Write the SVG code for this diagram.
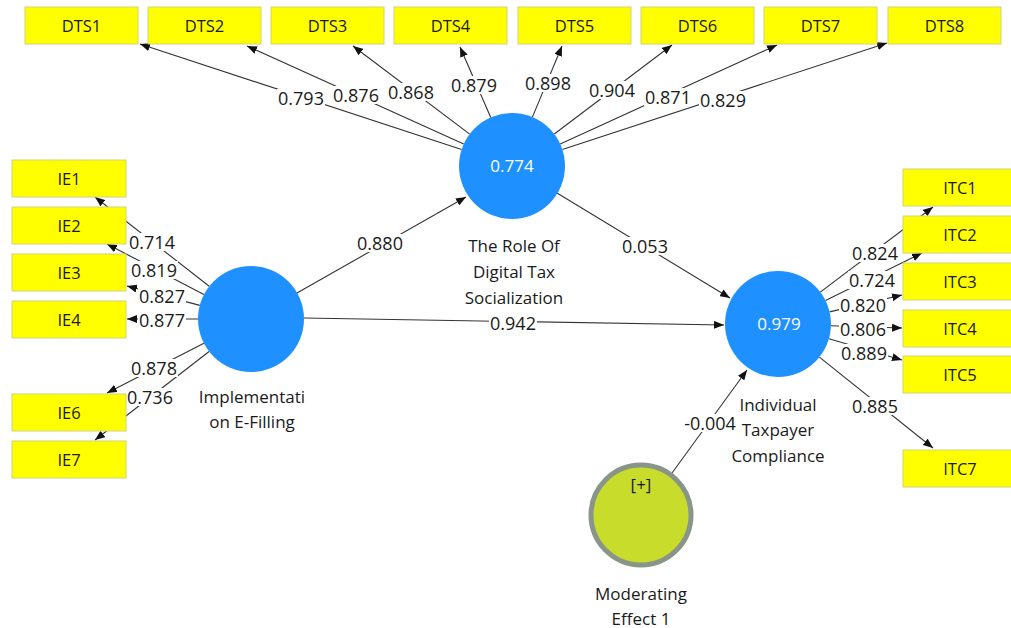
<svg xmlns="http://www.w3.org/2000/svg" width="1011" height="628" viewBox="0 0 1011 628">
<style>
text{font-family:"Open Sans","Noto Sans","DejaVu Sans",sans-serif;fill:#1a1a1a;text-anchor:middle;dominant-baseline:central}
.box rect{fill:#ffff00;stroke:#d2d27a;stroke-width:1}
.box text{font-size:16.5px}
.lv{fill:#1e90ff}
.val{fill:#ffffff;font-size:17px}
.nl{font-size:17px}
.cn line{stroke:#333;stroke-width:1.1;marker-end:url(#ah)}
.lb rect{fill:#fff}
.lb text{font-size:18px}
</style>
<defs>
<marker id="ah" viewBox="0 0 10 8" refX="10" refY="4" markerWidth="10" markerHeight="8" markerUnits="userSpaceOnUse" orient="auto">
<path d="M0,0 L10,4 L0,8 z" fill="#111"/>
</marker>
</defs>
<rect width="1011" height="628" fill="#fff"/>

<g id="connectors" class="cn">
<line x1="461.6" y1="149.5" x2="140" y2="44"/>
<line x1="463.7" y1="144.1" x2="247" y2="46"/>
<line x1="469.7" y1="134.1" x2="353" y2="46"/>
<line x1="490.8" y1="117.5" x2="460" y2="47"/>
<line x1="532.4" y1="117.1" x2="562" y2="46"/>
<line x1="554.3" y1="134" x2="672" y2="45"/>
<line x1="560.2" y1="144" x2="777" y2="45"/>
<line x1="562.4" y1="149.5" x2="887" y2="43"/>
<line x1="209.2" y1="286.3" x2="95" y2="197"/>
<line x1="203.9" y1="294.5" x2="107" y2="244"/>
<line x1="199.8" y1="305.4" x2="127" y2="286"/>
<line x1="198" y1="319" x2="127" y2="319"/>
<line x1="203.9" y1="343.2" x2="107" y2="393"/>
<line x1="209.1" y1="351.5" x2="95" y2="440"/>
<line x1="820.3" y1="292.1" x2="933" y2="207"/>
<line x1="825.5" y1="300.6" x2="922" y2="253"/>
<line x1="829.6" y1="311.9" x2="902" y2="295"/>
<line x1="831" y1="325.7" x2="902" y2="328"/>
<line x1="828.9" y1="338.8" x2="902" y2="360"/>
<line x1="819.4" y1="357.1" x2="933" y2="448"/>
<line x1="297" y1="293" x2="466" y2="197"/>
<line x1="304" y1="318" x2="724" y2="325"/>
<line x1="557" y1="193" x2="730" y2="298"/>
<line x1="672" y1="473" x2="747" y2="370"/>
</g>

<g id="connector-labels" class="lb">
<rect x="277" y="89" width="48" height="18"/><text x="301" y="98">0.793</text>
<rect x="332" y="86" width="48" height="18"/><text x="356" y="95">0.876</text>
<rect x="387" y="83" width="48" height="18"/><text x="411" y="92">0.868</text>
<rect x="450" y="76" width="48" height="18"/><text x="474" y="85">0.879</text>
<rect x="524" y="74" width="48" height="18"/><text x="548" y="83">0.898</text>
<rect x="588" y="81" width="48" height="18"/><text x="612" y="90">0.904</text>
<rect x="644" y="88" width="48" height="18"/><text x="668" y="97">0.871</text>
<rect x="699" y="91" width="48" height="18"/><text x="723" y="100">0.829</text>
<rect x="128" y="233" width="48" height="18"/><text x="152" y="242">0.714</text>
<rect x="130" y="261" width="48" height="18"/><text x="154" y="270">0.819</text>
<rect x="138" y="287" width="48" height="18"/><text x="162" y="296">0.827</text>
<rect x="138" y="311" width="48" height="18"/><text x="162" y="320">0.877</text>
<rect x="130" y="359" width="48" height="18"/><text x="154" y="368">0.878</text>
<rect x="126" y="388" width="48" height="18"/><text x="150" y="397">0.736</text>
<rect x="851" y="244" width="48" height="18"/><text x="875" y="253">0.824</text>
<rect x="848" y="271" width="48" height="18"/><text x="872" y="280">0.724</text>
<rect x="839" y="296" width="48" height="18"/><text x="863" y="305">0.820</text>
<rect x="839" y="320" width="48" height="18"/><text x="863" y="329">0.806</text>
<rect x="840" y="344" width="48" height="18"/><text x="864" y="353">0.889</text>
<rect x="851" y="397" width="48" height="18"/><text x="875" y="406">0.885</text>
<rect x="356" y="234" width="48" height="18"/><text x="380" y="243">0.880</text>
<rect x="489" y="314" width="48" height="18"/><text x="513" y="323">0.942</text>
<rect x="621" y="237" width="48" height="18"/><text x="645" y="246">0.053</text>
<rect x="682" y="414" width="56" height="18"/><text x="710" y="423">-0.004</text>
</g>

<g id="DTS1" class="box"><rect x="25" y="7" width="113" height="37"/><text x="81.5" y="25.5">DTS1</text></g>
<g id="DTS2" class="box"><rect x="148" y="7" width="113" height="37"/><text x="204.5" y="25.5">DTS2</text></g>
<g id="DTS3" class="box"><rect x="271" y="7" width="113" height="37"/><text x="327.5" y="25.5">DTS3</text></g>
<g id="DTS4" class="box"><rect x="394" y="7" width="113" height="37"/><text x="450.5" y="25.5">DTS4</text></g>
<g id="DTS5" class="box"><rect x="518" y="7" width="113" height="37"/><text x="574.5" y="25.5">DTS5</text></g>
<g id="DTS6" class="box"><rect x="641" y="7" width="113" height="37"/><text x="697.5" y="25.5">DTS6</text></g>
<g id="DTS7" class="box"><rect x="764" y="7" width="113" height="37"/><text x="820.5" y="25.5">DTS7</text></g>
<g id="DTS8" class="box"><rect x="888" y="7" width="113" height="37"/><text x="944.5" y="25.5">DTS8</text></g>

<g id="IE1" class="box"><rect x="12" y="160" width="114" height="37"/><text x="69" y="178.5">IE1</text></g>
<g id="IE2" class="box"><rect x="12" y="207" width="114" height="37"/><text x="69" y="225.5">IE2</text></g>
<g id="IE3" class="box"><rect x="12" y="254" width="114" height="37"/><text x="69" y="272.5">IE3</text></g>
<g id="IE4" class="box"><rect x="12" y="301" width="114" height="37"/><text x="69" y="319.5">IE4</text></g>
<g id="IE6" class="box"><rect x="12" y="394" width="114" height="37"/><text x="69" y="412.5">IE6</text></g>
<g id="IE7" class="box"><rect x="12" y="441" width="114" height="37"/><text x="69" y="459.5">IE7</text></g>

<g id="ITC1" class="box"><rect x="903" y="169" width="114" height="37"/><text x="960" y="187.5">ITC1</text></g>
<g id="ITC2" class="box"><rect x="903" y="216" width="114" height="37"/><text x="960" y="234.5">ITC2</text></g>
<g id="ITC3" class="box"><rect x="903" y="263" width="114" height="37"/><text x="960" y="281.5">ITC3</text></g>
<g id="ITC4" class="box"><rect x="903" y="310" width="114" height="37"/><text x="960" y="328.5">ITC4</text></g>
<g id="ITC5" class="box"><rect x="903" y="356" width="114" height="37"/><text x="960" y="374.5">ITC5</text></g>
<g id="ITC7" class="box"><rect x="903" y="450" width="114" height="37"/><text x="960" y="468.5">ITC7</text></g>

<g id="DTS">
<circle class="lv" cx="512" cy="166" r="53"/>
<text class="val" x="512" y="165">0.774</text>
<text class="nl" x="514" y="245">The Role Of</text>
<text class="nl" x="514" y="271">Digital Tax</text>
<text class="nl" x="514" y="297">Socialization</text>
</g>

<g id="IE">
<circle class="lv" cx="251" cy="319" r="53"/>
<text class="nl" x="252" y="396">Implementati</text>
<text class="nl" x="252" y="421">on E-Filling</text>
</g>

<g id="ITC">
<circle class="lv" cx="778" cy="324" r="53"/>
<text class="val" x="779" y="323">0.979</text>
<text class="nl" x="778" y="404">Individual</text>
<text class="nl" x="778" y="429">Taxpayer</text>
<text class="nl" x="778" y="455">Compliance</text>
</g>

<g id="ModeratingEffect1">
<circle cx="641" cy="515" r="50" fill="#c8dc2c" stroke="#8a958a" stroke-width="5"/>
<text x="641" y="484" style="font-size:17px">[+]</text>
<text class="nl" x="641" y="593">Moderating</text>
<text class="nl" x="641" y="618">Effect 1</text>
</g>
</svg>
